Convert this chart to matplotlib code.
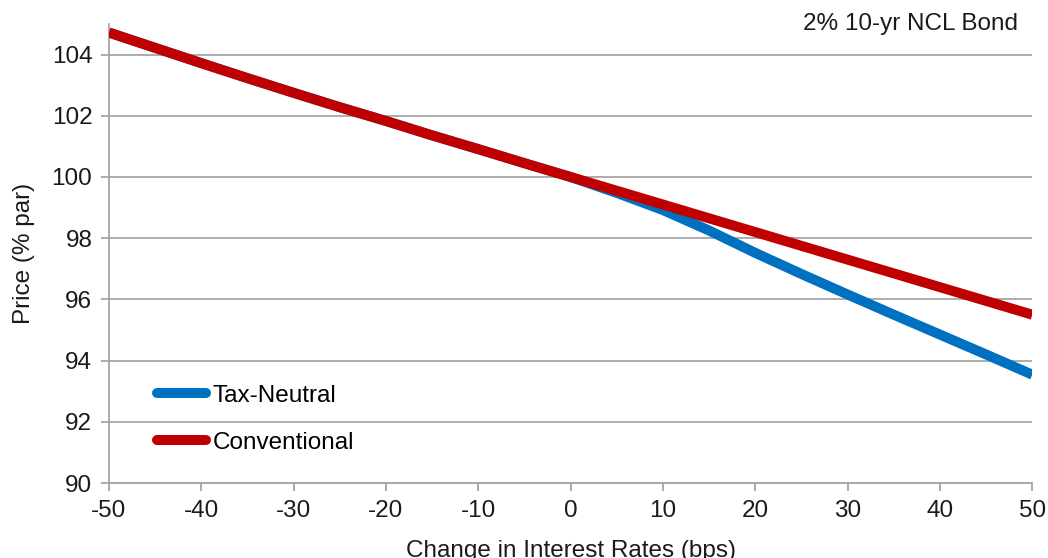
import matplotlib
matplotlib.use("Agg")
import matplotlib.pyplot as plt
from matplotlib.lines import Line2D

plt.rcParams['font.family'] = ['Liberation Sans', 'DejaVu Sans']

# Rate shock in basis points
rate_change = [-50, -45, -40, -35, -30, -25, -20, -15, -10, -5, 0,
               5, 10, 15, 20, 25, 30, 35, 40, 45, 50]

# Price (% of par) of a 2% 10-year NCL bond
conventional = [104.72, 104.22, 103.72, 103.23, 102.75, 102.28, 101.83, 101.36,
                100.91, 100.45, 100.0, 99.55, 99.10, 98.65, 98.20, 97.75,
                97.30, 96.85, 96.40, 95.95, 95.50]
tax_neutral = [104.72, 104.22, 103.72, 103.23, 102.75, 102.28, 101.83, 101.36,
               100.91, 100.45, 100.0, 99.48, 98.92, 98.25, 97.52, 96.83,
               96.16, 95.50, 94.85, 94.20, 93.54]

series_names = ["Tax-Neutral", "Conventional"]
series_colors = ["#0070C0", "#C00000"]

x_ticks = list(range(-50, 51, 10))
y_ticks = list(range(90, 105, 2))

FS = 17.5

fig = plt.figure(figsize=(10.48, 5.58), dpi=100)
ax = fig.add_axes([0.104, 0.1344, 0.881, 0.8226])

lw = 7.2
ax.plot(rate_change, tax_neutral, color=series_colors[0], lw=lw,
        solid_capstyle='butt', solid_joinstyle='round', zorder=3)
ax.plot(rate_change, conventional, color=series_colors[1], lw=lw,
        solid_capstyle='butt', solid_joinstyle='round', zorder=4)

ax.set_xlim(-50, 50)
ax.set_ylim(90, 105)
ax.set_xticks(x_ticks)
ax.set_yticks(y_ticks)
ax.set_xticklabels([str(v) for v in x_ticks])
ax.set_yticklabels([str(v) for v in y_ticks])

grid_col = "#a6a6a6"
ax.yaxis.grid(True, color=grid_col, lw=1.3)
ax.set_axisbelow(True)
for side in ("top", "right"):
    ax.spines[side].set_visible(False)
for side in ("left", "bottom"):
    ax.spines[side].set_color(grid_col)
    ax.spines[side].set_linewidth(1.3)
ax.tick_params(axis='both', direction='out', length=6, width=1.3,
               color=grid_col, labelsize=FS, labelcolor="#1a1a1a", pad=6)

ax.set_xlabel("Change in Interest Rates (bps)", fontsize=FS, color="#1a1a1a",
              labelpad=13)
ax.set_ylabel("Price (% par)", fontsize=FS, color="#1a1a1a", labelpad=12)

ax.text(0.985, 1.0, "2% 10-yr NCL Bond", transform=ax.transAxes,
        ha='right', va='center', fontsize=FS, color="#1a1a1a")

handles = [Line2D([], [], color=c, lw=lw, solid_capstyle='round')
           for c in series_colors]
ax.legend(handles, series_names, loc='center left',
          bbox_to_anchor=(0.052, 0.139), frameon=False, fontsize=FS,
          handlelength=2.0, handletextpad=0.3, labelspacing=1.02,
          borderaxespad=0, borderpad=0)

fig.savefig("out.png", dpi=100)
